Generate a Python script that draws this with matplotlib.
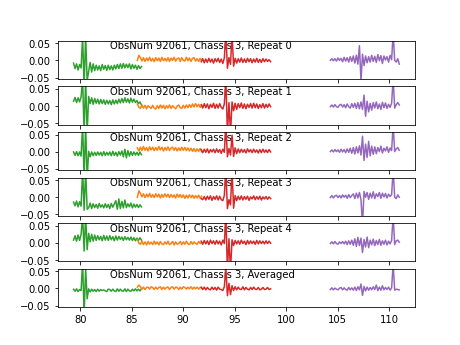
import numpy as np
import matplotlib
matplotlib.use("Agg")
import matplotlib.pyplot as plt

# Segment frequency ranges
green_range = (79.35, 85.95)
orange_range = (85.55, 91.8)
red_range = (91.75, 98.5)
purple_range = (104.3, 111.0)

titles = ["ObsNum 92061, Chassis 3, Repeat 0",
          "ObsNum 92061, Chassis 3, Repeat 1",
          "ObsNum 92061, Chassis 3, Repeat 2",
          "ObsNum 92061, Chassis 3, Repeat 3",
          "ObsNum 92061, Chassis 3, Repeat 4",
          "ObsNum 92061, Chassis 3, Averaged"]

# values in units of 1e-3
green = [
    [-8,-24,-10,-28,-12,-22,70,-80,75,-60,-32,-6,-34,-10,-30,-14,-28,-16,-30,-12,-26,-15,-29,-14,-27,-16,-28,-14,-25,-12,-24,-10,-23,-9,-22,-11,-21,-10,-25,-12,-23,-14,-26,-15,-24,-18],
    [14,25,10,24,12,27,80,-80,80,-80,28,7,24,5,22,8,20,6,19,7,18,5,17,6,16,4,18,6,17,7,20,9,22,10,24,11,21,9,23,11,20,10,16,7,12,3],
    [-1,-11,0,-12,-1,-13,80,-80,80,-80,1,-15,-1,-12,-2,-11,-1,-10,-2,-12,0,-11,-2,-10,-1,-12,1,-11,-2,-13,0,-10,2,-15,7,-18,3,-13,0,-11,-1,-10,-2,-11,-1,-9],
    [-14,-25,-11,-28,-13,-26,80,-38,80,-35,-31,-17,-33,-19,-30,-21,-32,-18,-29,-22,-31,-19,-30,-21,-33,-18,-29,-20,-10,-35,-5,-33,-12,-31,-8,-30,-19,-28,-17,-31,-20,-29,-21,-30,-22,-28],
    [8,21,5,23,7,25,80,-24,80,-20,28,3,25,5,23,7,21,9,19,6,22,8,20,7,21,9,18,6,20,8,19,10,17,7,18,9,16,8,17,7,15,6,14,7,15,8],
    [-2,-8,-1,-9,-3,-6,80,-80,60,-30,-1,-10,-2,-8,-3,-9,-2,-8,-3,-6,-4,-7,-9,-2,-3,-8,-2,-7,-9,-1,-8,-2,-7,-8,-1,-9,-2,-7,-8,-2,-7,-1,-7,-2,-7,-1],
]
orange = [
    [0,15,8,-2,8,-3,7,-1,9,-2,6,-4,8,-1,7,-3,9,-1,6,-2,8,-3,7,0,9,-2,5,7,-3,8,0,-2,9,-1,7,-3,6,8,-2,5,-3,6,-1],
    [6,-4,-7,3,-6,2,-8,1,-3,-7,2,-6,-9,1,-7,3,-6,2,-8,1,-6,3,-7,1,-4,-8,0,3,-5,-7,2,-6,3,-5,4,-4,6,-3,7,-2,5,-4,2],
    [11,2,13,3,15,4,12,2,14,5,13,3,12,4,15,5,13,2,12,4,14,3,11,13,4,12,2,11,3,13,4,12,3,11,2,10,1,9,0,8,1,9,0],
    [0,19,11,1,10,-1,9,1,11,0,8,-1,10,1,9,-2,8,0,10,1,9,-1,8,0,7,-2,9,0,8,-1,7,-3,6,-2,7,-1,6,-3,5,-2,6,-3,3],
    [10,-1,-4,5,-5,3,-6,4,-4,2,-5,5,-4,3,-6,4,-3,-5,3,-4,5,-5,-2,4,-6,3,-4,-2,4,-5,3,-4,5,-3,-5,4,-4,3,-2,-4,4,-2,2],
    [4,10,5,-2,4,-3,3,4,-2,5,3,-3,4,-2,3,5,-3,4,-2,3,4,-3,3,5,-2,4,3,-3,4,-2,5,3,-2,4,-1,5,-2,4,-1,4,-2,3,4],
]
red = [
    [-4,5,-7,4,-6,6,-5,4,-8,5,-4,6,-6,4,-9,7,80,-23,8,-12,80,-17,6,-8,5,-5,7,-6,4,-6,6,-4,5,-7,4,-5,6,-6,3,-6,5,-4,4,-3,2,-4],
    [4,-6,7,-5,6,-8,5,-4,8,-7,5,-6,7,-4,-9,6,80,-80,10,-80,12,-14,8,-10,7,-5,9,-7,6,-8,5,-4,7,-6,8,-5,6,-7,4,-5,7,-6,5,-4,6,-2],
    [6,-3,7,-2,8,-4,6,-1,7,-3,8,-2,6,-5,7,-2,80,-15,9,-10,48,-14,11,-6,8,-3,7,-2,6,-4,8,-1,6,-3,7,-2,5,-4,6,-3,7,-2,5,-3,6,-1],
    [-4,-7,2,-8,3,-6,4,-9,2,-6,4,-8,3,-7,-10,5,80,-33,-7,-22,80,-32,5,-10,3,-7,4,-8,2,-6,3,-9,1,-5,4,-7,2,-6,3,-8,1,-5,2,-6,1,-4],
    [5,-4,7,-3,6,-5,8,-2,6,-4,7,-3,5,-6,8,-2,80,-80,12,-80,9,-8,7,-3,6,-4,8,-2,5,-5,7,-3,6,-2,5,-4,7,-3,6,-2,5,-3,6,-2,5,-1],
    [3,-3,4,-4,3,-2,-4,4,-3,3,-5,4,-2,-3,-6,5,60,-21,15,-18,8,-6,5,-4,4,-2,-3,5,-4,3,-2,-4,3,-3,4,-2,-3,3,-4,-2,3,-3,-2,3,-3,-1],
]
purple = [
    [0,5,-1,5,-2,7,0,6,-4,9,-2,8,-5,11,-3,13,-8,15,-11,43,-60,18,-15,13,-7,11,-5,15,-3,12,-6,17,-1,14,-9,13,1,11,-5,15,2,80,0,-5,5,-11],
    [-2,3,-3,4,-2,-4,3,5,-3,4,-5,6,-2,-6,7,-4,8,-7,10,-8,12,-10,32,-30,14,-17,8,-12,10,-6,12,-8,6,-10,11,-5,9,-7,5,-4,8,80,-6,4,10,3],
    [0,5,-1,6,0,5,-2,7,-1,6,-3,8,-2,10,-5,12,-7,14,-4,17,-10,45,-26,22,-17,30,-12,16,-8,14,-6,12,0,16,-4,10,2,14,-2,11,3,80,0,8,12,4],
    [-1,5,-2,4,6,-1,5,-2,7,0,6,-3,8,-1,5,10,-4,12,-2,14,-7,-80,17,0,14,-6,12,-2,16,-4,10,2,14,-3,12,1,11,-2,9,2,8,80,0,-4,7,0],
    [-2,3,-3,4,-2,-4,3,-2,4,-3,5,-5,6,-4,8,-7,12,-10,16,-8,14,-28,10,-12,17,-14,8,-6,11,-8,7,-5,10,-7,6,-4,8,-6,5,-3,7,80,-5,6,8,2],
    [-3,2,-4,1,-2,-4,1,3,-4,2,-3,-5,3,-4,2,-5,4,-6,5,-4,13,-20,6,-7,4,-5,3,-4,5,-3,10,-6,4,-5,8,-4,3,-3,4,-5,2,70,-5,-2,-3,-4],
]

segments = [(green, green_range, "tab:green"),
            (orange, orange_range, "tab:orange"),
            (red, red_range, "tab:red"),
            (purple, purple_range, "tab:purple")]

fig, axes = plt.subplots(6, 1, sharex=True, figsize=(6.4, 4.8), dpi=72)
for i, ax in enumerate(axes):
    for data, (x0, x1), col in segments:
        y = np.array(data[i]) * 1e-3
        x = np.linspace(x0, x1, len(y))
        ax.plot(x, y, color=col, lw=1.5)
    ax.set_ylim(-0.054, 0.057)
    ax.set_yticks([-0.05, 0.0, 0.05])
    ax.text(0.147, 1.0, titles[i], transform=ax.transAxes, ha="left", va="top",
            fontsize=10, zorder=1)
axes[-1].set_xlim(77.8, 112.5)
axes[-1].set_xticks([80, 85, 90, 95, 100, 105, 110])
fig.savefig("out.png", dpi=72)
